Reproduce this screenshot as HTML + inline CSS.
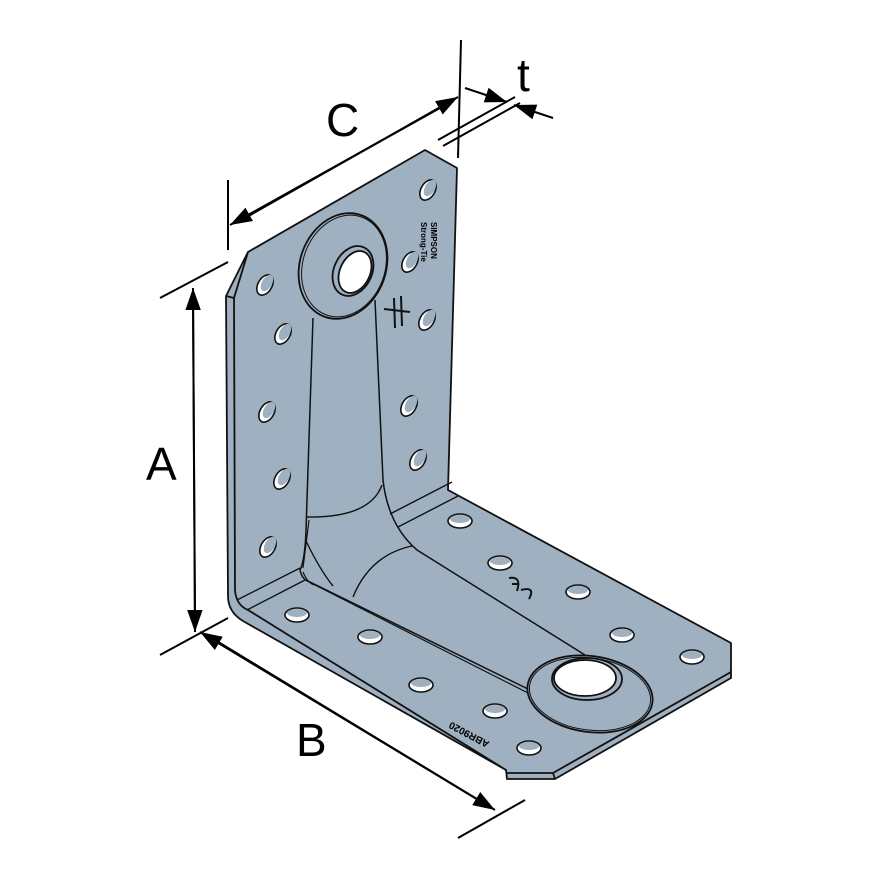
<!DOCTYPE html>
<html><head><meta charset="utf-8"><style>html,body{margin:0;padding:0;background:#fff}svg{display:block}</style></head>
<body>
<svg width="880" height="880" viewBox="0 0 880 880" xmlns="http://www.w3.org/2000/svg" font-family="Liberation Sans, sans-serif">
<defs>
<marker id="ab" viewBox="0 0 10 10" refX="10" refY="5" markerWidth="22" markerHeight="22" markerUnits="userSpaceOnUse" orient="auto">
<path d="M0,1.5 L10,5 L0,8.5 z" fill="#000"/></marker>
</defs>
<g stroke="#111" stroke-width="1.8" stroke-linejoin="round" fill="#9fb0c0">
<path d="M226,296 L248,252 L425,150 L457,168 L448,490 L731,643 L731,678 L555,779 L507,779 L506,770 L243,621 Q228,612 228,596 Z"/>
<path fill="none" d="M248,252 L234,298 L235,590 Q236,605 248,610 L506,770"/>
<path fill="none" d="M226,296 L234,298"/>
<path fill="none" d="M731,672 L553,773 L507,773 M553,773 L555,779"/>
<path fill="none" stroke-width="1.4" d="M390,514 L452,482 M398,527 L458,496"/>
<path fill="none" stroke-width="1.4" d="M237,600 L300,568 M247,610 L305,580"/>
<path fill="none" stroke-width="1.5" d="M313,318 L306,530 Q305,560 300,570 Q302,580 310,582 L530,690"/>
<path fill="none" stroke-width="1.2" d="M309,520 L303,568 M303,572 Q308,584 315,585 L528,693"/>
<path fill="none" stroke-width="1.5" d="M375,300 L383,480 Q388,525 417,550 L585,655"/>
<path fill="none" stroke-width="1.4" d="M307,517 Q370,518 382,485"/>
<path fill="none" stroke-width="1.4" d="M353,597 Q370,555 412,546"/>
<path fill="none" stroke-width="1.4" d="M306,541 Q320,570 333,586"/>
<ellipse cx="343" cy="266" rx="43" ry="54" transform="rotate(20 343 266)"/>
<ellipse cx="344" cy="266" rx="41" ry="52" transform="rotate(20 344 266)" fill="none" stroke-width="1"/>
<ellipse cx="353" cy="271" rx="19" ry="26" transform="rotate(25 353 271)"/>
<ellipse cx="355" cy="272" rx="15" ry="22" transform="rotate(25 355 272)" fill="#fff"/>
<ellipse cx="590" cy="694" rx="63" ry="38" transform="rotate(8 590 694)"/>
<ellipse cx="590" cy="694" rx="61" ry="36" transform="rotate(8 590 694)" fill="none" stroke-width="1"/>
<ellipse cx="587" cy="679" rx="35" ry="21"/>
<ellipse cx="585" cy="678" rx="31" ry="18" fill="#fff"/>
</g>
<g stroke="#111" stroke-width="1.6" fill="#fff">
<ellipse cx="428" cy="190" rx="7" ry="11" transform="rotate(30 428 190)"/>
<ellipse cx="265" cy="285" rx="7" ry="11" transform="rotate(30 265 285)"/>
<ellipse cx="410" cy="262" rx="7" ry="11" transform="rotate(30 410 262)"/>
<ellipse cx="283" cy="334" rx="7" ry="11" transform="rotate(30 283 334)"/>
<ellipse cx="427" cy="320" rx="7" ry="11" transform="rotate(30 427 320)"/>
<ellipse cx="267" cy="412" rx="7" ry="11" transform="rotate(30 267 412)"/>
<ellipse cx="409" cy="406" rx="7" ry="11" transform="rotate(30 409 406)"/>
<ellipse cx="282" cy="479" rx="7" ry="11" transform="rotate(30 282 479)"/>
<ellipse cx="418" cy="460" rx="7" ry="11" transform="rotate(30 418 460)"/>
<ellipse cx="268" cy="547" rx="7" ry="11" transform="rotate(30 268 547)"/>
</g>
<g fill="#9fb0c0">
<ellipse cx="430" cy="188" rx="5" ry="9" transform="rotate(30 430 188)"/>
<ellipse cx="267" cy="283" rx="5" ry="9" transform="rotate(30 267 283)"/>
<ellipse cx="412" cy="260" rx="5" ry="9" transform="rotate(30 412 260)"/>
<ellipse cx="285" cy="332" rx="5" ry="9" transform="rotate(30 285 332)"/>
<ellipse cx="429" cy="318" rx="5" ry="9" transform="rotate(30 429 318)"/>
<ellipse cx="269" cy="410" rx="5" ry="9" transform="rotate(30 269 410)"/>
<ellipse cx="411" cy="404" rx="5" ry="9" transform="rotate(30 411 404)"/>
<ellipse cx="284" cy="477" rx="5" ry="9" transform="rotate(30 284 477)"/>
<ellipse cx="420" cy="458" rx="5" ry="9" transform="rotate(30 420 458)"/>
<ellipse cx="270" cy="545" rx="5" ry="9" transform="rotate(30 270 545)"/>
</g>
<g stroke="#111" stroke-width="1.6" fill="#fff">
<ellipse cx="460" cy="521" rx="12" ry="7"/>
<ellipse cx="500" cy="563" rx="12" ry="7"/>
<ellipse cx="578" cy="592" rx="12" ry="7"/>
<ellipse cx="297" cy="615" rx="12" ry="7"/>
<ellipse cx="370" cy="637" rx="12" ry="7"/>
<ellipse cx="622" cy="635" rx="12" ry="7"/>
<ellipse cx="692" cy="657" rx="12" ry="7"/>
<ellipse cx="421" cy="685" rx="12" ry="7"/>
<ellipse cx="495" cy="711" rx="12" ry="7"/>
<ellipse cx="529" cy="748" rx="12" ry="7"/>
</g>
<g fill="#9fb0c0">
<ellipse cx="460" cy="519" rx="10" ry="4"/><ellipse cx="500" cy="561" rx="10" ry="4"/>
<ellipse cx="578" cy="590" rx="10" ry="4"/><ellipse cx="297" cy="613" rx="10" ry="4"/>
<ellipse cx="370" cy="635" rx="10" ry="4"/><ellipse cx="622" cy="633" rx="10" ry="4"/>
<ellipse cx="692" cy="655" rx="10" ry="4"/><ellipse cx="421" cy="683" rx="10" ry="4"/>
<ellipse cx="495" cy="709" rx="10" ry="4"/><ellipse cx="529" cy="746" rx="10" ry="4"/>
</g>
<g stroke="#111" stroke-width="2" fill="none">
<path d="M394,298 L395,328 M401,296 L402,326 M384,309 L410,312"/>
<path d="M509,578 Q522,576 517,591 M512,584 L518,584 M521,590 Q536,586 529,599"/>
</g>
<text x="0" y="0" font-size="8" font-weight="bold" transform="translate(431,222) rotate(90)">SIMPSON</text>
<text x="0" y="0" font-size="8" font-weight="bold" transform="translate(421,222) rotate(90)">Strong-Tie</text>
<text x="0" y="0" font-size="10" font-weight="bold" transform="translate(490,742) rotate(208)">ABR9020</text>
<g stroke="#000" stroke-width="2" fill="none">
<path d="M160,298 L228,262 M160,655 L228,618"/>
<path d="M193,300 L195,632" marker-end="url(#ab)"/>
<path d="M195,620 L193,288" marker-end="url(#ab)"/>
<path d="M228,180 L228,250 M461,40 L458,158"/>
<path d="M245,218 L458,97" marker-end="url(#ab)"/>
<path d="M440,108 L230,225" marker-end="url(#ab)"/>
<path d="M458,838 L525,800"/>
<path d="M215,640 L495,810" marker-end="url(#ab)"/>
<path d="M480,801 L200,632" marker-end="url(#ab)"/>
<path d="M438,140 L515,97 M443,146 L520,103"/>
<path d="M465,88 L507,102" marker-end="url(#ab)"/>
<path d="M553,118 L514,105" marker-end="url(#ab)"/>
</g>
<g font-size="46" fill="#000">
<text x="326" y="136">C</text>
<text x="146" y="480">A</text>
<text x="296" y="756">B</text>
<text x="517" y="91">t</text>
</g>
</svg>
</body></html>
